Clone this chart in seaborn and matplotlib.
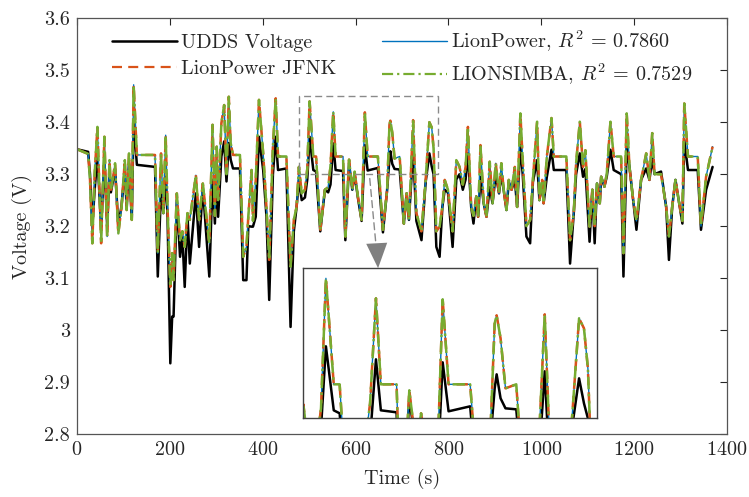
import matplotlib
matplotlib.use("Agg")
import matplotlib.pyplot as plt
import seaborn as sns
import pandas as pd
from matplotlib.patches import Rectangle
from matplotlib.lines import Line2D

# ---------------- data ----------------
time_s = [0, 24, 28, 33, 38, 44, 52, 59, 65, 70, 73, 78, 82, 89, 96, 103, 107, 112, 118, 122,
          129, 168, 174, 181, 186, 191, 195, 201, 205, 208, 215, 222, 227, 232, 238, 243,
          256, 263, 271, 285, 292, 297, 301, 304, 311, 317, 322, 327, 331, 336, 351, 358,
          365, 369, 376, 379, 385, 392, 401, 408, 414, 422, 428, 433, 451, 460, 467, 473,
          478, 484, 491, 496, 501, 509, 515, 524, 534, 541, 546, 552, 557, 573, 578, 586,
          593, 598, 605, 613, 620, 626, 648, 659, 668, 673, 675, 679, 684, 695, 704, 710,
          715, 724, 731, 742, 751, 759, 764, 768, 774, 781, 787, 792, 799, 809, 817, 824,
          831, 837, 842, 849, 854, 860, 864, 869, 876, 882, 889, 895, 902, 909, 914, 919,
          925, 930, 936, 943, 948, 955, 960, 968, 976, 982, 991, 996, 1002, 1005, 1012,
          1022, 1027, 1054, 1062, 1070, 1075, 1083, 1090, 1095, 1104, 1110, 1115, 1120,
          1126, 1129, 1136, 1141, 1149, 1156, 1172, 1177, 1184, 1190, 1197, 1205, 1215,
          1226, 1233, 1239, 1244, 1258, 1269, 1275, 1282, 1289, 1296, 1304, 1308, 1316,
          1337, 1344, 1355, 1369]

udds_v = [3.348, 3.343, 3.300, 3.199, 3.270, 3.334, 3.199, 3.328, 3.200, 3.310, 3.265, 3.290,
          3.310, 3.200, 3.240, 3.310, 3.235, 3.320, 3.215, 3.404,
          3.318, 3.314, 3.103, 3.270, 3.225, 3.295, 3.220, 2.936, 3.026, 3.026, 3.250, 3.141,
          3.180, 3.083, 3.220, 3.128,
          3.263, 3.160, 3.275, 3.103, 3.289, 3.205, 3.310, 3.218, 3.334, 3.363, 3.286, 3.360,
          3.328, 3.311, 3.311, 3.096,
          3.096, 3.200, 3.199, 3.199, 3.218, 3.372, 3.308, 3.220, 3.058, 3.300, 3.372, 3.308,
          3.311, 3.006, 3.190, 3.237,
          3.289, 3.250, 3.255, 3.290, 3.372, 3.308, 3.305, 3.190, 3.270, 3.265, 3.280, 3.359,
          3.308, 3.306, 3.173, 3.320,
          3.270, 3.300, 3.255, 3.210, 3.356, 3.307, 3.312, 3.188, 3.270, 3.330, 3.344, 3.320,
          3.310, 3.309, 3.205, 3.263,
          3.212, 3.347, 3.210, 3.173, 3.285, 3.340, 3.315, 3.300, 3.160, 3.141, 3.237, 3.270,
          3.265, 3.160, 3.290, 3.300,
          3.270, 3.290, 3.340, 3.237, 3.205, 3.257, 3.218, 3.295, 3.244, 3.218, 3.275, 3.244,
          3.300, 3.263, 3.300, 3.270,
          3.231, 3.285, 3.270, 3.290, 3.237, 3.356, 3.300, 3.180, 3.167, 3.285, 3.327, 3.250,
          3.285, 3.244, 3.295,
          3.347, 3.308, 3.308, 3.128, 3.225, 3.300, 3.340, 3.295, 3.310, 3.170, 3.270, 3.167,
          3.282,
          3.244, 3.295, 3.276, 3.295, 3.347, 3.308, 3.300, 3.103, 3.353, 3.314, 3.257, 3.193,
          3.289,
          3.311, 3.289, 3.330, 3.300, 3.305, 3.237, 3.135, 3.237, 3.289, 3.250, 3.205, 3.366,
          3.308,
          3.308, 3.193, 3.270, 3.314]

model_v = [3.348, 3.339, 3.290, 3.167, 3.300, 3.391, 3.167, 3.372, 3.180, 3.327, 3.270, 3.295,
           3.321, 3.186, 3.237, 3.327, 3.231, 3.340, 3.212, 3.472,
           3.337, 3.337, 3.148, 3.340, 3.225, 3.375, 3.237, 3.083, 3.148, 3.096, 3.263, 3.173,
           3.190, 3.160, 3.225, 3.212,
           3.298, 3.212, 3.282, 3.167, 3.395, 3.220, 3.353, 3.250, 3.398, 3.433, 3.300, 3.449,
           3.360, 3.337, 3.337, 3.141,
           3.160, 3.218, 3.308, 3.210, 3.289, 3.443, 3.340, 3.237, 3.135, 3.353, 3.446, 3.334,
           3.334, 3.122, 3.212, 3.237,
           3.314, 3.263, 3.270, 3.310, 3.440, 3.334, 3.334, 3.193, 3.270, 3.275, 3.315, 3.420,
           3.334, 3.334, 3.180, 3.328,
           3.270, 3.305, 3.257, 3.212, 3.419, 3.334, 3.334, 3.193, 3.270, 3.395, 3.403, 3.380,
           3.330, 3.334, 3.205, 3.263,
           3.212, 3.404, 3.225, 3.190, 3.289, 3.400, 3.390, 3.350, 3.190, 3.199, 3.237, 3.289,
           3.270, 3.190, 3.327, 3.314,
           3.280, 3.314, 3.391, 3.237, 3.220, 3.257, 3.218, 3.356, 3.244, 3.218, 3.324, 3.244,
           3.321, 3.263, 3.321, 3.270,
           3.231, 3.289, 3.270, 3.314, 3.237, 3.417, 3.327, 3.200, 3.212, 3.289, 3.401, 3.250,
           3.289, 3.244, 3.334,
           3.408, 3.334, 3.334, 3.173, 3.225, 3.321, 3.401, 3.314, 3.346, 3.199, 3.270, 3.200,
           3.282,
           3.244, 3.295, 3.276, 3.300, 3.401, 3.334, 3.334, 3.148, 3.417, 3.314, 3.257, 3.210,
           3.289,
           3.340, 3.289, 3.379, 3.300, 3.300, 3.237, 3.180, 3.237, 3.289, 3.250, 3.210, 3.436,
           3.334,
           3.334, 3.200, 3.295, 3.353]

lionpower_v = list(model_v)
jfnk_v = list(model_v)
lionsimba_v = list(model_v)

series_labels = ["UDDS Voltage", "LionPower JFNK",
                 r"LionPower, $R^2$ = 0.7860", r"LIONSIMBA, $R^2$ = 0.7529"]
x_ticks = [0, 200, 400, 600, 800, 1000, 1200, 1400]
y_ticks = [2.8, 2.9, 3.0, 3.1, 3.2, 3.3, 3.4, 3.5, 3.6]
y_tick_labels = ["2.8", "2.9", "3", "3.1", "3.2", "3.3", "3.4", "3.5", "3.6"]
zoom_t = [478, 777]
zoom_v = [3.30, 3.45]

# ---------------- style ----------------
sns.set_style("white")
plt.rcParams.update({
    "font.family": "serif",
    "font.serif": ["cmr10"],
    "mathtext.fontset": "cm",
    "axes.unicode_minus": False,
    "font.size": 14.5,
    "axes.formatter.use_mathtext": True,
})

c_meas = "black"
c_lp = "#0072BD"
c_jf = "#D95319"
c_ls = "#77AC30"
ls_jf = (0, (4.5, 2.8))
ls_ls = (0, (5, 1.8, 1, 1.8))

df = pd.DataFrame({"t": time_s, "udds": udds_v, "lp": lionpower_v,
                   "jf": jfnk_v, "ls": lionsimba_v})

fig = plt.figure(figsize=(7.49, 4.97), dpi=100)
ax = fig.add_axes([0.1028, 0.1268, 0.8678, 0.8364])


def draw(a):
    sns.lineplot(data=df, x="t", y="udds", ax=a, color=c_meas, lw=1.8,
                 estimator=None, sort=False, legend=False)
    sns.lineplot(data=df, x="t", y="lp", ax=a, color=c_lp, lw=1.0,
                 estimator=None, sort=False, legend=False)
    sns.lineplot(data=df, x="t", y="jf", ax=a, color=c_jf, lw=1.8,
                 linestyle=ls_jf, estimator=None, sort=False, legend=False)
    sns.lineplot(data=df, x="t", y="ls", ax=a, color=c_ls, lw=1.8,
                 linestyle=ls_ls, estimator=None, sort=False, legend=False)


draw(ax)
ax.set_xlim(0, 1400)
ax.set_ylim(2.8, 3.6)
ax.set_xticks(x_ticks)
ax.set_yticks(y_ticks)
ax.set_yticklabels(y_tick_labels)
ax.set_xlabel("Time (s)", color="#262626", labelpad=7)
ax.set_ylabel("Voltage (V)", color="#262626", labelpad=9)
ax.tick_params(direction="in", length=5, width=0.8, top=True, right=True,
               colors="#262626", labelsize=14.5, pad=5)
for sp in ax.spines.values():
    sp.set_visible(True)
    sp.set_color("#555555")
    sp.set_linewidth(0.9)

# legend
handles = [
    Line2D([], [], color=c_meas, lw=1.8),
    Line2D([], [], color=c_jf, lw=1.6, linestyle=ls_jf),
    Line2D([], [], color=c_lp, lw=1.0),
    Line2D([], [], color=c_ls, lw=1.6, linestyle=ls_ls),
]
ax.legend(handles, series_labels, ncol=2, frameon=False, loc="upper left",
          bbox_to_anchor=(0.048, 0.985), borderaxespad=0, borderpad=0.2,
          handlelength=3.2, handletextpad=0.2, columnspacing=2.3, labelspacing=0.38,
          fontsize=14.5)

# dashed zoom rectangle and arrow
ax.add_patch(Rectangle((zoom_t[0], zoom_v[0]), zoom_t[1] - zoom_t[0], zoom_v[1] - zoom_v[0],
                       fill=False, ec="#8a8a8a", lw=1.0, ls=(0, (5, 3)), zorder=5))
ax.annotate("", xy=(647, 3.135), xytext=(630, 3.297),
            arrowprops=dict(arrowstyle="-", color="#8a8a8a", lw=1.0, ls=(0, (5, 3))),
            zorder=5)
ax.annotate("", xy=(648.5, 3.119), xytext=(646, 3.16),
            arrowprops=dict(arrowstyle="-|>,head_length=1.0,head_width=0.42",
                            mutation_scale=18, color="#808080", lw=0, shrinkA=0, shrinkB=0),
            zorder=6)

# inset
axin = fig.add_axes([0.405, 0.1583, 0.3917, 0.3018])
draw(axin)
axin.set_xlim(*zoom_t)
axin.set_ylim(*zoom_v)
axin.set_xticks([])
axin.set_yticks([])
axin.set_xlabel("")
axin.set_ylabel("")
axin.set_facecolor("white")
for sp in axin.spines.values():
    sp.set_visible(True)
    sp.set_color("#404040")
    sp.set_linewidth(1.0)

fig.savefig("out.png", dpi=100)
